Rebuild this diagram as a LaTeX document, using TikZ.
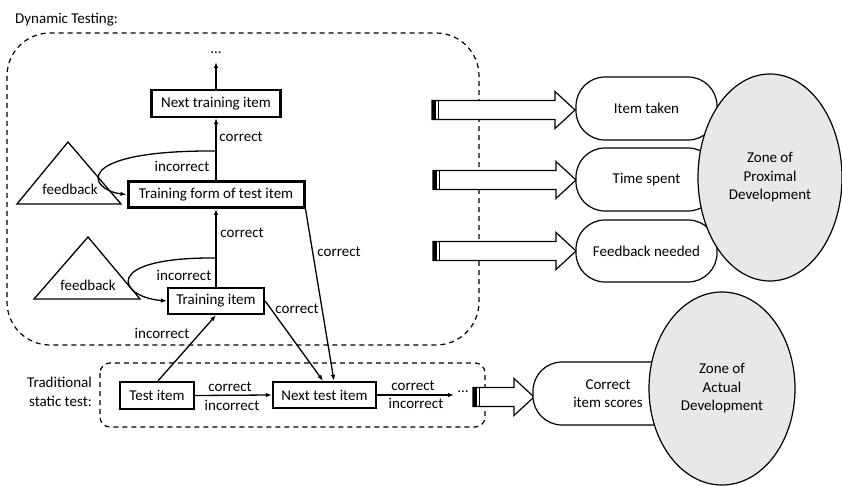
\documentclass[tikz,border=0pt]{standalone}
\usepackage{fontspec}
\setmainfont{Carlito}
\usetikzlibrary{arrows.meta,shapes.geometric,calc}
\definecolor{zonegray}{RGB}{232,232,232}
\tikzset{
  txt/.style={font=\fontsize{15}{18.5}\selectfont, inner sep=0pt},
  itembox/.style={txt, draw, line width=2.3pt, fill=white, inner sep=0pt},
  conn/.style={line width=1.3pt, -{Latex[length=6pt,width=4.5pt]}},
  plainline/.style={line width=1.3pt},
  region/.style={draw, dashed, line width=1.2pt, dash pattern=on 5pt off 4pt},
  capsule/.style={txt, draw, line width=1.2pt, fill=white, rounded corners=29pt, align=center},
  zone/.style={txt, draw, ellipse, line width=1.2pt, fill=zonegray, align=center, inner sep=0pt},
  tri/.style={draw, line width=1.3pt, fill=white, line join=miter},
  pics/stripedarrow/.style={code={
    \draw[line width=1.2pt, fill=white, line join=miter]
      (0,-9.5) -- ({#1-20},-9.5) -- ({#1-20},-18.5) -- (#1,0)
      -- ({#1-20},18.5) -- ({#1-20},9.5) -- (0,9.5) -- cycle;
    \fill (0,-9.5) rectangle (4,9.5);
    \draw[line width=1pt] (6,-9.5) -- (6,9.5);
  }}
}
\begin{document}
\begin{tikzpicture}[x=1pt,y=-1pt]
\useasboundingbox (0,0) rectangle (842,486);

% section frames and titles
\node[txt, anchor=west] (dyntitle) at (15,20) {Dynamic Testing:};
\draw[region, rounded corners=43pt] (7,33) rectangle (479,345);
\draw[region, rounded corners=10pt] (100,363) rectangle (485,427);
\node[txt, align=right, anchor=east] (stattitle) at (92,392) {Traditional\\static test:};

% feedback triangles
\draw[tri] (68,142) -- (121,204) -- (17,204) -- cycle;
\node[txt] (fb1) at (70,189) {feedback};
\draw[tri] (88,237) -- (140,299) -- (34,299) -- cycle;
\node[txt] (fb2) at (88,285) {feedback};

% items
\node[itembox, minimum width=129pt, minimum height=27pt] (nti) at (216,103.5) {Next training item};
\node[itembox, line width=3pt, minimum width=176pt, minimum height=26pt] (tf) at (216,194.5) {Training form of test item};
\node[itembox, minimum width=96pt, minimum height=26pt] (ti) at (216,301) {Training item};
\node[itembox, minimum width=74pt, minimum height=27pt] (te) at (157,395.5) {Test item};
\node[itembox, minimum width=103pt, minimum height=26pt] (nts) at (324.5,395) {Next test item};

% continuation marks
\node[txt] (dots1) at (216,53) {…};
\coordinate (topend) at (216,62);
\node[txt] (dots2) at (463,392) {…};
\coordinate (rightend) at (454,395);

% training chain
\draw[conn] (nti.north) -- (topend);
\draw[conn] (tf.north) -- (nti.south);
\draw[conn] (ti.north) -- (tf.south);
\coordinate (loop1) at (216,151);
\coordinate (loop2) at (216,258);
\draw[conn] (loop1) .. controls (70,150) and (88,190) .. (tf.west);
\draw[conn] (loop2) .. controls (100,257) and (118,297) .. (ti.west);
\node[txt] (c1) at (241,137) {correct};
\node[txt] (i1) at (182,166) {incorrect};
\node[txt] (c2) at (242,233) {correct};
\node[txt] (i2) at (184,275) {incorrect};

% links to the static test
\draw[conn] (tf.south east) -- ([xshift=9.5pt]nts.north);
\draw[conn] (ti.east) -- ([xshift=-1.5pt]nts.north);
\draw[conn] ([xshift=1pt]te.north) -- (ti.south);
\node[txt] (c3) at (339,252) {correct};
\node[txt] (c4) at (297,309) {correct};
\node[txt] (i3) at (162,333) {incorrect};

% static chain
\draw[conn] (te.east) -- (nts.west);
\node[txt] (c5) at (230,387) {correct};
\node[txt] (i5) at (232,405) {incorrect};
\draw[conn] (nts.east) -- (rightend);
\node[txt] (c6) at (413,386) {correct};
\node[txt] (i6) at (416,403) {incorrect};

% measures
\pic at (432,110) {stripedarrow=143};
\pic at (433,180) {stripedarrow=143};
\pic at (433,251) {stripedarrow=143};
\pic at (473,397) {stripedarrow=61};

\node[capsule, minimum width=141pt, minimum height=63pt] (taken) at (646.5,108.5) {Item taken};
\node[capsule, minimum width=141pt, minimum height=63pt] (spent) at (646.5,179.5) {Time spent};
\node[capsule, minimum width=141pt, minimum height=62pt] (needed) at (646.5,251) {Feedback needed};
\node[capsule, minimum width=150pt, minimum height=63pt] (scores) at (608,393.5) {Correct\\item scores};

% zones
\node[zone, minimum width=144pt, minimum height=207pt] (zpd) at (770,177.5) {Zone of\\Proximal\\Development};
\node[zone, minimum width=146pt, minimum height=193pt] (zad) at (722,388.5) {Zone of\\Actual\\Development};
\end{tikzpicture}
\end{document}
